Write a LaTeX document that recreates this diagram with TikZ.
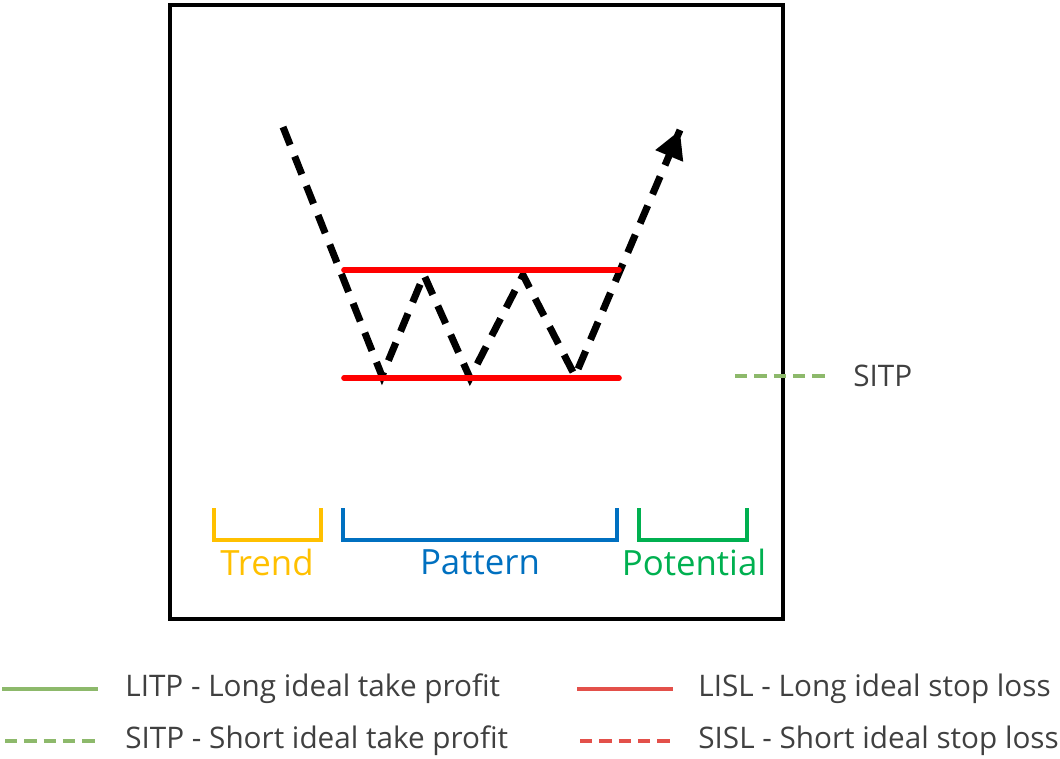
\documentclass[tikz,border=0pt]{standalone}
\usepackage{fontspec}
\setmainfont{Open Sans}
\usetikzlibrary{arrows.meta}
\definecolor{trendc}{HTML}{FFC000}
\definecolor{patternc}{HTML}{0070C0}
\definecolor{potentialc}{HTML}{00B050}
\definecolor{tpc}{HTML}{8DB96B}
\definecolor{slc}{HTML}{E3504A}
\definecolor{textc}{HTML}{404040}
\tikzset{
  price/.style={black, line width=4pt, dash pattern=on 11pt off 7pt},
  level/.style={red, line width=3.2pt, line cap=round},
  brace/.style={line width=2.6pt},
  legend/.style={line width=2pt},
  phase/.style={font=\fontsize{19.8}{22}\selectfont},
  legtext/.style={anchor=west, text=textc, font=\fontsize{16.9}{20}\selectfont, inner sep=0pt}
}
\begin{document}
\begin{tikzpicture}[x=0.02cm,y=-0.02cm]
        \useasboundingbox (0,0) rectangle (1060,758);
        \draw[black, line width=2.8pt] (170,5) rectangle (783,619);
        % price path
        \coordinate (p0) at (283,127);
        \coordinate (p1) at (382,376);
        \coordinate (p2) at (424,275);
        \coordinate (p3) at (470,378);
        \coordinate (p4) at (523,275);
        \coordinate (p5) at (575,376);
        \coordinate (p6) at (680,130);
        \draw[price] (p0) -- (p1) -- (p2) -- (p3) -- (p4) -- (p5) -- (p6);
        \draw[black, line width=4pt, -{Triangle[length=16pt,width=16pt]}] (670,154) -- (p6);
        % levels
        \coordinate (ta) at (344,270);
        \coordinate (tb) at (619,270);
        \coordinate (ba) at (344,378);
        \coordinate (bb) at (619,378);
        \draw[level] (ta) -- (tb);
        \draw[level] (ba) -- (bb);
        % phases
        \draw[brace, trendc] (214,508) -- (214,540) -- (321,540) -- (321,508);
        \draw[brace, patternc] (343,508) -- (343,540) -- (617,540) -- (617,508);
        \draw[brace, potentialc] (639,508) -- (639,540) -- (747,540) -- (747,508);
        \node[phase, text=trendc] (trend) at (267,562) {Trend};
        \node[phase, text=patternc] (pattern) at (480,562) {Pattern};
        \node[phase, text=potentialc] (potential) at (694,562) {Potential};
        % legend
        \draw[legend, tpc, dash pattern=on 7pt off 4pt] (735,376) -- (830,376);
        \node[legtext] (sitpa) at (853,376) {SITP};
        \draw[legend, tpc] (2,689) -- (98,689);
        \node[legtext] (litp) at (125,689) {LITP - Long ideal take profit};
        \draw[legend, slc] (577,689) -- (673,689);
        \node[legtext] (lisl) at (698,689) {LISL - Long ideal stop loss};
        \draw[legend, tpc, dash pattern=on 7pt off 4pt] (5,741) -- (98,741);
        \node[legtext] (sitp) at (125,741) {SITP - Short ideal take profit};
        \draw[legend, slc, dash pattern=on 7pt off 4pt] (580,741) -- (673,741);
        \node[legtext] (sisl) at (698,741) {SISL - Short ideal stop loss};
\end{tikzpicture}
\end{document}
